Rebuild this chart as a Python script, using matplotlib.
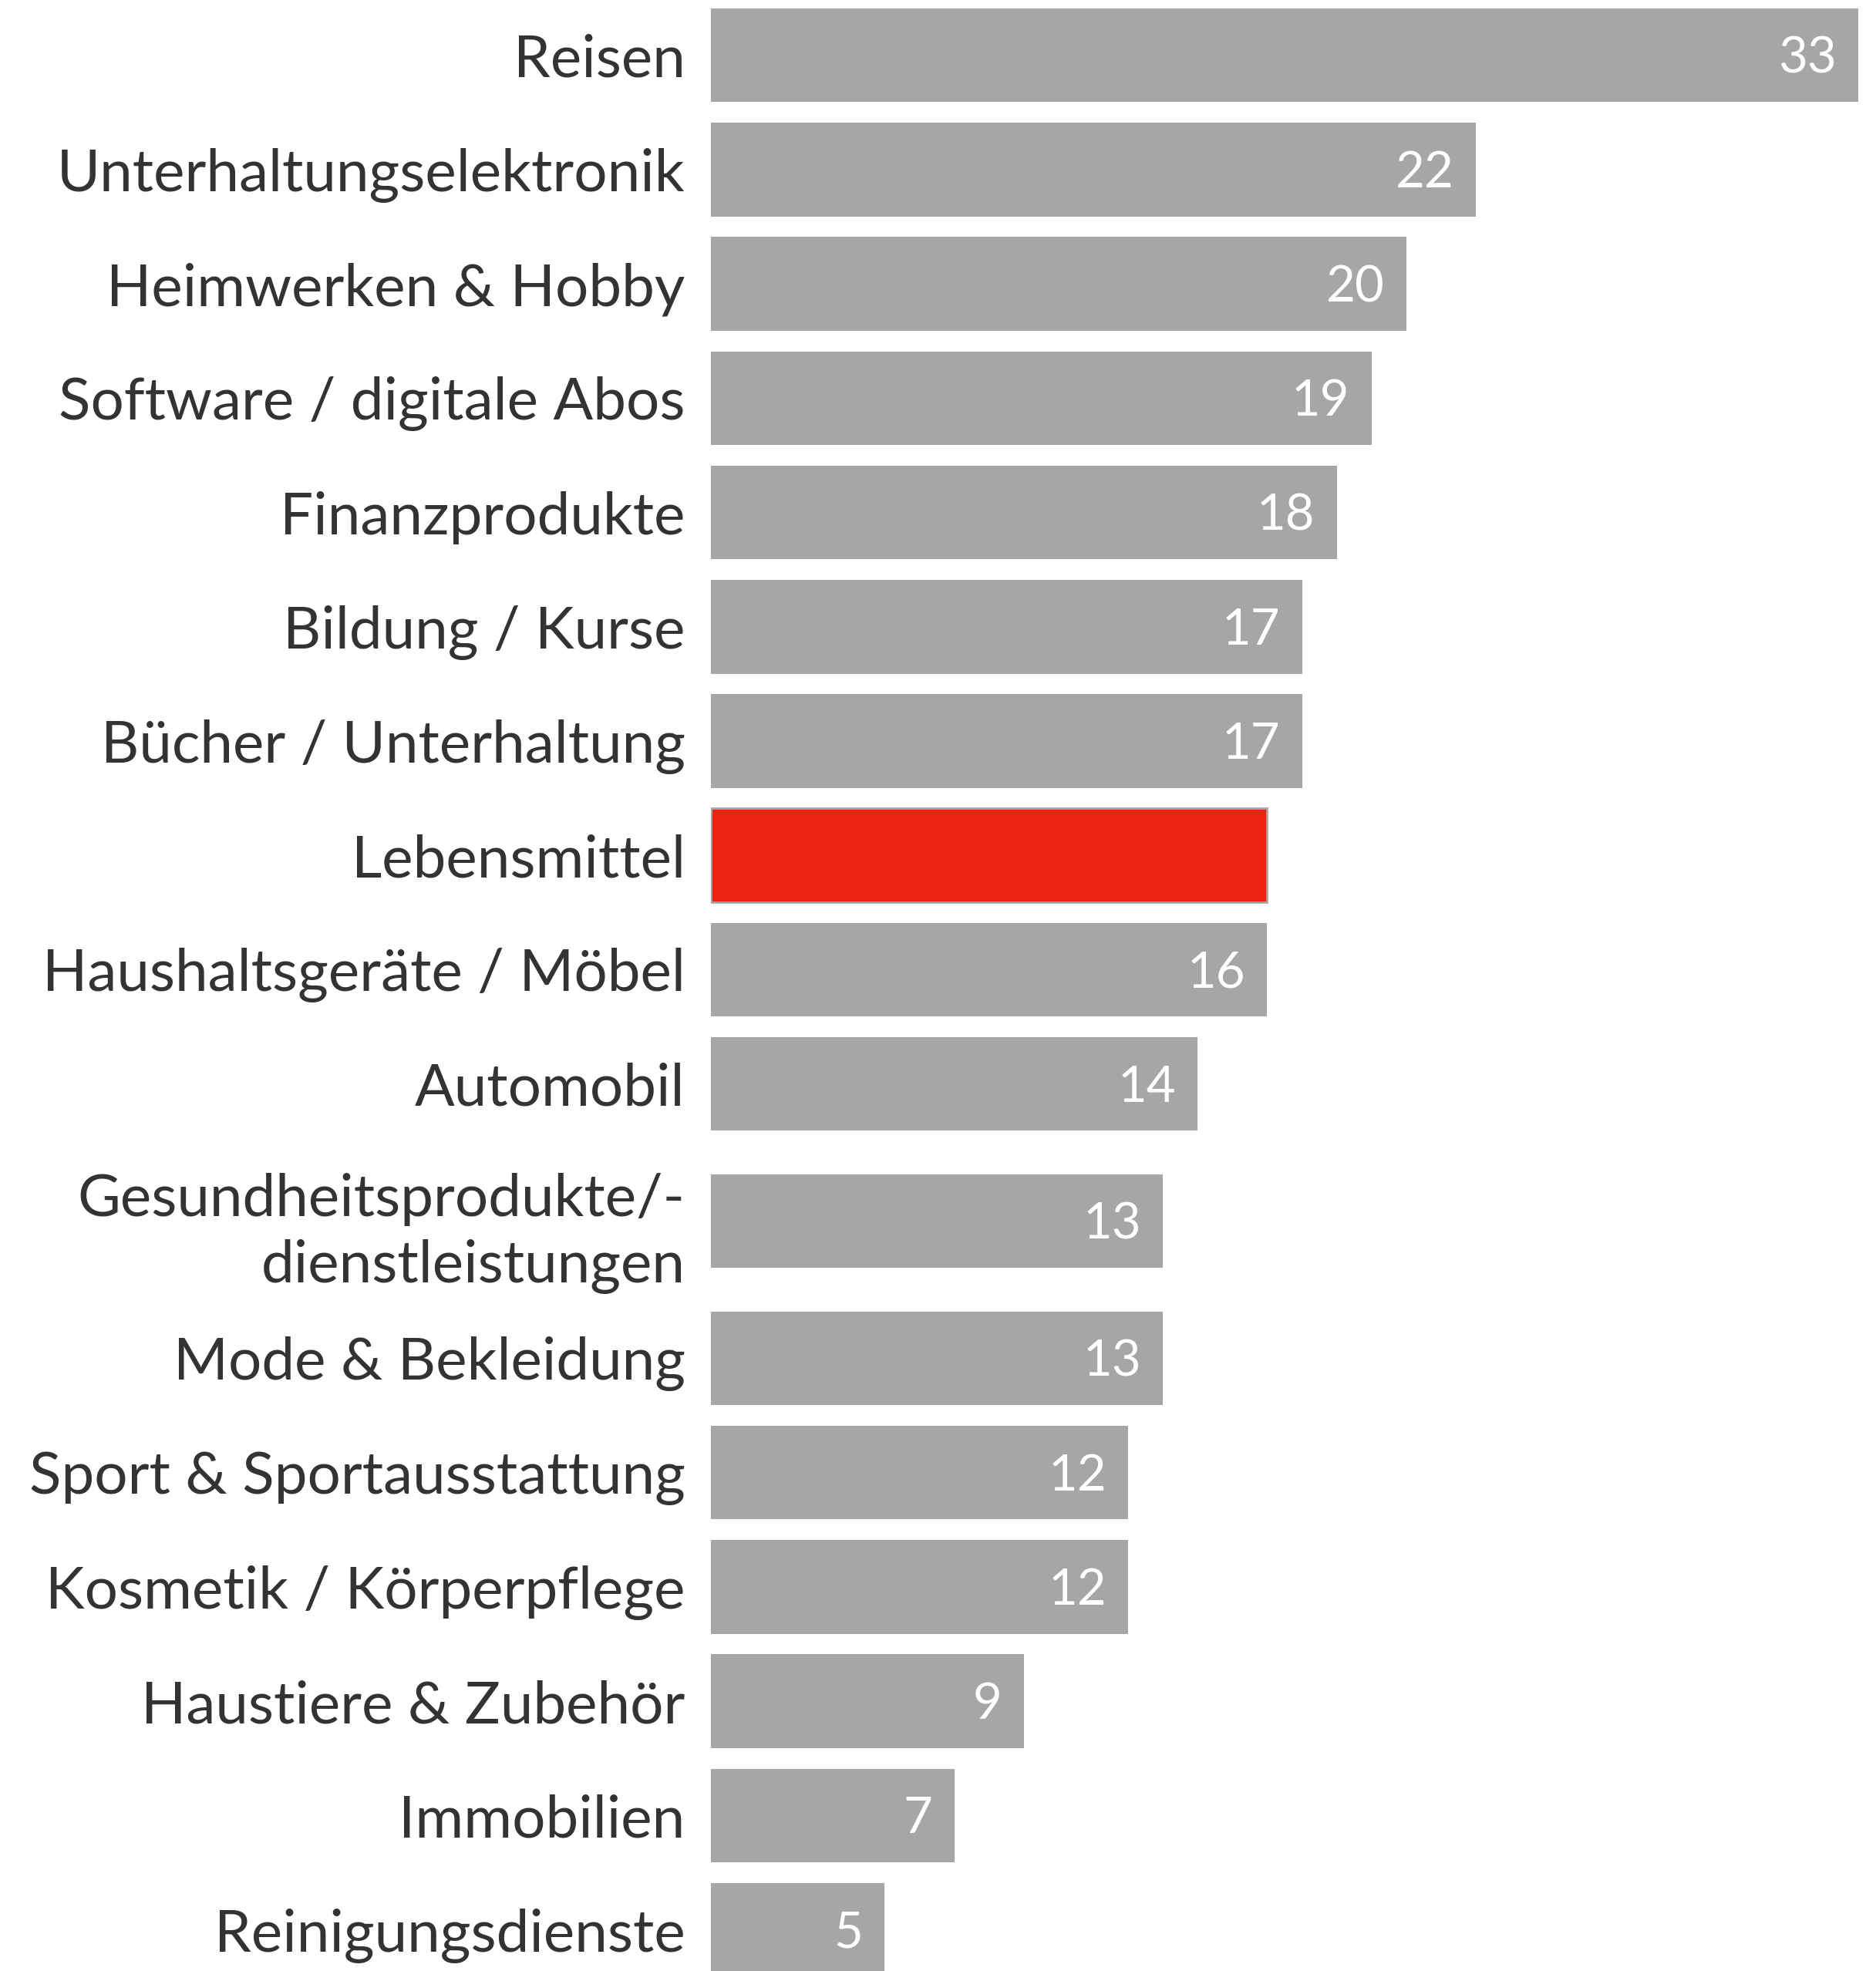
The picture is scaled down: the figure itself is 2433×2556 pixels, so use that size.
import matplotlib.pyplot as plt
import numpy as np

categories = ['Reisen', 'Unterhaltungselektronik', 'Heimwerken & Hobby',
              'Software / digitale Abos', 'Finanzprodukte', 'Bildung / Kurse',
              'Bücher / Unterhaltung', 'Lebensmittel', 'Haushaltsgeräte / Möbel',
              'Automobil', 'Gesundheitsprodukte/-\ndienstleistungen',
              'Mode & Bekleidung', 'Sport & Sportausstattung',
              'Kosmetik / Körperpflege', 'Haustiere & Zubehör', 'Immobilien',
              'Reinigungsdienste']
values = [33, 22, 20, 19, 18, 17, 17, 16, 16, 14, 13, 13, 12, 12, 9, 7, 5]
highlight = 'Lebensmittel'

plt.rcParams['font.family'] = ['Lato', 'DejaVu Sans']

# extra room around the two-line label
ypos = []
y = 0.0
for i, c in enumerate(categories):
    if i > 0:
        y += 1.0
        if '\n' in c or '\n' in categories[i - 1]:
            y += 0.2
    ypos.append(y)
ypos = np.array(ypos)

W, H = 2433, 2556
fig = plt.figure(figsize=(W / 100, H / 100), dpi=100)
ax = fig.add_axes([922 / W, 0, (2410 - 922) / W, 1])

colors = ['#ee2210' if c == highlight else '#a6a6a6' for c in categories]
edges = ['#a6a6a6' if c == highlight else 'none' for c in categories]
ax.barh(ypos, values, height=0.82, color=colors, edgecolor=edges, linewidth=2)

for yy, v, c in zip(ypos, values, categories):
    if c == highlight:
        continue
    ax.text(v - 0.62, yy + 0.03, str(v), ha='right', va='center', color='white', fontsize=47)

ax.set_xlim(0, 33)
ax.set_ylim(ypos[-1] + 0.36, -0.483)
ax.set_yticks(ypos)
ax.set_yticklabels(categories, fontsize=55, color='#333333', linespacing=1.3)
ax.tick_params(axis='y', length=0, pad=24)
ax.set_xticks([])
for s in ax.spines.values():
    s.set_visible(False)

fig.savefig('out.png', dpi=100)
